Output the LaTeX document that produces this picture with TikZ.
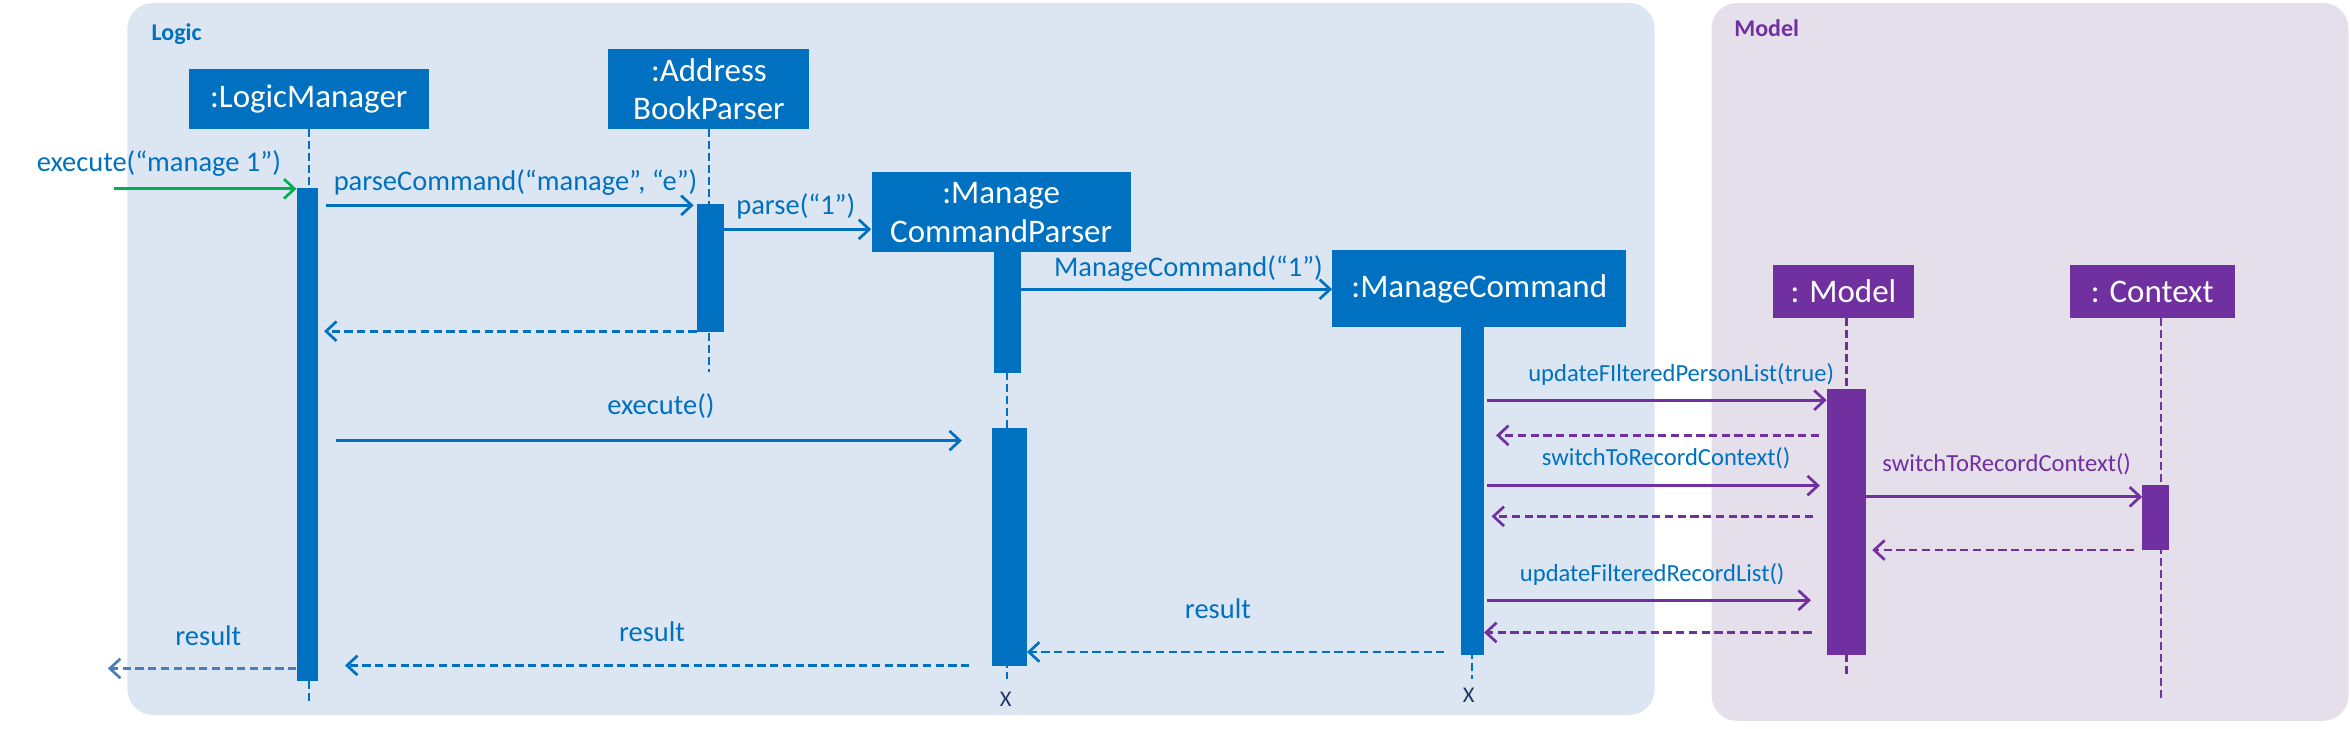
\documentclass[tikz,border=0pt]{standalone}
\usepackage{fontspec}
\setmainfont{Carlito}
\usetikzlibrary{arrows.meta}
\definecolor{mblue}{HTML}{0070C0}
\definecolor{mpurple}{HTML}{7030A0}
\definecolor{mgreen}{HTML}{00B050}
\definecolor{logicbg}{HTML}{DCE6F2}
\definecolor{modelbg}{HTML}{E5DFEC}
\definecolor{xnavy}{HTML}{1F3864}
\definecolor{lblue}{HTML}{4A7EBB}
\begin{document}
\begin{tikzpicture}[x=1pt,y=-1pt,
  obj/.style={fill=#1, text=white, inner sep=0pt, align=center, font=\fontsize{22}{26}\selectfont},
  bar/.style={fill=#1, inner sep=0pt, anchor=north},
  life/.style={draw=#1, line width=1.5pt, dash pattern=on 5.5pt off 2.5pt},
  msg/.style={draw=#1, line width=1.8pt, -{Straight Barb[length=7pt,width=13pt,line width=1.8pt]}},
  ret/.style={msg=#1, dash pattern=on 5.5pt off 3pt},
  lbl/.style={text=#1, inner sep=0pt, anchor=base, font=\fontsize{19}{22}\selectfont},
  slbl/.style={text=#1, inner sep=0pt, anchor=base, font=\fontsize{16.4}{19}\selectfont},
  xmark/.style={text=xnavy, inner sep=0pt, anchor=base, font=\fontsize{15}{18}\selectfont},
  panel/.style={fill=#1, draw=none, rounded corners=17pt}
]
\useasboundingbox (0,0) rectangle (1568,486);
% panels
\path[panel=logicbg] (85,2) rectangle (1104,477);
\path[panel=modelbg] (1142,2) rectangle (1567,481);
\node[anchor=base west, inner sep=0pt, text=mblue, font=\bfseries\fontsize{16}{19}\selectfont] (logiclbl) at (101,27) {Logic};
\node[anchor=base west, inner sep=0pt, text=mpurple, font=\bfseries\fontsize{16}{19}\selectfont] (modellbl) at (1157,24.4) {Model};

% lifeline ends
\coordinate (lmend) at (206,468);
\coordinate (abpend) at (473,248);
\coordinate (mcpend) at (672,453);
\coordinate (mcend) at (982,453);
\coordinate (modend) at (1232,452);
\coordinate (ctxend) at (1442,468);

% object boxes
\node[obj=mblue, minimum width=160pt, minimum height=40pt] (lm) at (206,66) {:LogicManager};
\node[obj=mblue, minimum width=134pt, minimum height=53pt] (abp) at (473,59.5) {:Address\\BookParser};
\node[obj=mblue, minimum width=173pt, minimum height=53pt] (mcp) at (668,141.5) {:Manage\\CommandParser};
\node[obj=mblue, minimum width=196pt, minimum height=51pt] (mc) at (987,192.5) {:ManageCommand};
\node[obj=mpurple, minimum width=94pt, minimum height=35pt] (mod) at (1230,194.5) {: Model};
\node[obj=mpurple, minimum width=110pt, minimum height=35pt] (ctx) at (1436,194.5) {: Context};

% lifelines
\draw[life=mblue] (lm.south -| lmend) -- (lmend);
\draw[life=mblue] (abp.south -| abpend) -- (abpend);
\draw[life=mblue] (mcp.south -| mcpend) -- (mcpend);
\draw[life=mblue] (mc.south -| mcend) -- (mcend);
\draw[life=mpurple] (mod.south -| modend) -- (modend);
\draw[life=mpurple] (ctx.south -| ctxend) -- (ctxend);

% activation bars
\node[bar=mblue, minimum width=14pt, minimum height=329pt] (alm) at (205,125) {};
\node[bar=mblue, minimum width=18pt, minimum height=85pt] (aabp) at (474,136) {};
\node[bar=mblue, minimum width=18pt, minimum height=81pt] (amcp1) at (672,168) {};
\node[bar=mblue, minimum width=23pt, minimum height=159pt] (amcp2) at (673.5,285.5) {};
\node[bar=mblue, minimum width=15pt, minimum height=219pt] (amc) at (982.5,218) {};
\node[bar=mpurple, minimum width=26pt, minimum height=177.5pt] (amod) at (1232,259.5) {};
\node[bar=mpurple, minimum width=18pt, minimum height=43.5pt] (actx) at (1438.5,323.5) {};

% message levels
\coordinate (in) at (76,126);
\coordinate (y2) at (0,137);
\coordinate (y3) at (0,153);
\coordinate (y4) at (0,193);
\coordinate (y5) at (0,221);
\coordinate (y6) at (0,294);
\coordinate (y7) at (0,267);
\coordinate (y8) at (0,290.5);
\coordinate (y9) at (0,324);
\coordinate (y10) at (0,331.5);
\coordinate (y11) at (0,367);
\coordinate (y12) at (0,344.5);
\coordinate (y13) at (0,400.5);
\coordinate (y14) at (0,422);
\coordinate (y15) at (0,435);
\coordinate (y16) at (0,444);
\coordinate (out) at (72,446);

% messages
\draw[msg=mgreen] (in) -- (alm.west |- in);
\draw[msg=mblue, shorten <=5pt, shorten >=2pt] (alm.east |- y2) -- (aabp.west |- y2);
\draw[msg=mblue] (aabp.east |- y3) -- (mcp.west |- y3);
\draw[msg=mblue] (amcp1.east |- y4) -- (mc.west |- y4);
\draw[ret=mblue, shorten >=4pt] (aabp.west |- y5) -- (alm.east |- y5);
\draw[msg=mblue, shorten <=12pt, shorten >=20pt] (alm.east |- y6) -- (amcp2.west |- y6);
\draw[msg=mpurple, shorten <=2pt] (amc.east |- y7) -- (amod.west |- y7);
\draw[ret=mpurple, shorten <=5pt, shorten >=8pt] (amod.west |- y8) -- (amc.east |- y8);
\draw[msg=mpurple, shorten <=2pt, shorten >=4.5pt] (amc.east |- y9) -- (amod.west |- y9);
\draw[msg=mpurple] (amod.east |- y10) -- (actx.west |- y10);
\draw[ret=mpurple, shorten <=5.5pt, shorten >=4pt] (actx.west |- y11) -- (amod.east |- y11);
\draw[ret=mpurple, shorten <=9pt, shorten >=5pt] (amod.west |- y12) -- (amc.east |- y12);
\draw[msg=mpurple, shorten <=2pt, shorten >=10.5pt] (amc.east |- y13) -- (amod.west |- y13);
\draw[ret=mpurple, shorten <=10pt] (amod.west |- y14) -- (amc.east |- y14);
\draw[ret=mblue, shorten <=11pt] (amc.west |- y15) -- (amcp2.east |- y15);
\draw[ret=mblue, shorten <=15pt, shorten >=18pt] (amcp2.west |- y16) -- (alm.east |- y16);
\draw[ret=lblue] (alm.west |- out) -- (out);

% labels
\node[lbl=mblue] (l1) at (106,114.5) {execute(“manage 1”)};
\node[lbl=mblue] (l2) at (344,127) {parseCommand(“manage”, “e”)};
\node[lbl=mblue] (l3) at (531,143.3) {parse(“1”)};
\node[lbl=mblue] (l4) at (793,184.4) {ManageCommand(“1”)};
\node[lbl=mblue] (l6) at (441,276.7) {execute()};
\node[slbl=mblue] (l7) at (1121.7,254.4) {updateFIlteredPersonList(true)};
\node[slbl=mblue] (l9) at (1111.7,310.4) {switchToRecordContext()};
\node[slbl=mpurple] (l10) at (1338.9,314.4) {switchToRecordContext()};
\node[slbl=mblue] (l13) at (1102.4,387.8) {updateFilteredRecordList()};
\node[lbl=mblue] (l15) at (812.6,412.7) {result};
\node[lbl=mblue] (l16) at (435,427.8) {result};
\node[lbl=mblue] (l17) at (139,431) {result};
\node[xmark] (x1) at (671,471.5) {X};
\node[xmark] (x2) at (980,468.4) {X};
\end{tikzpicture}
\end{document}
